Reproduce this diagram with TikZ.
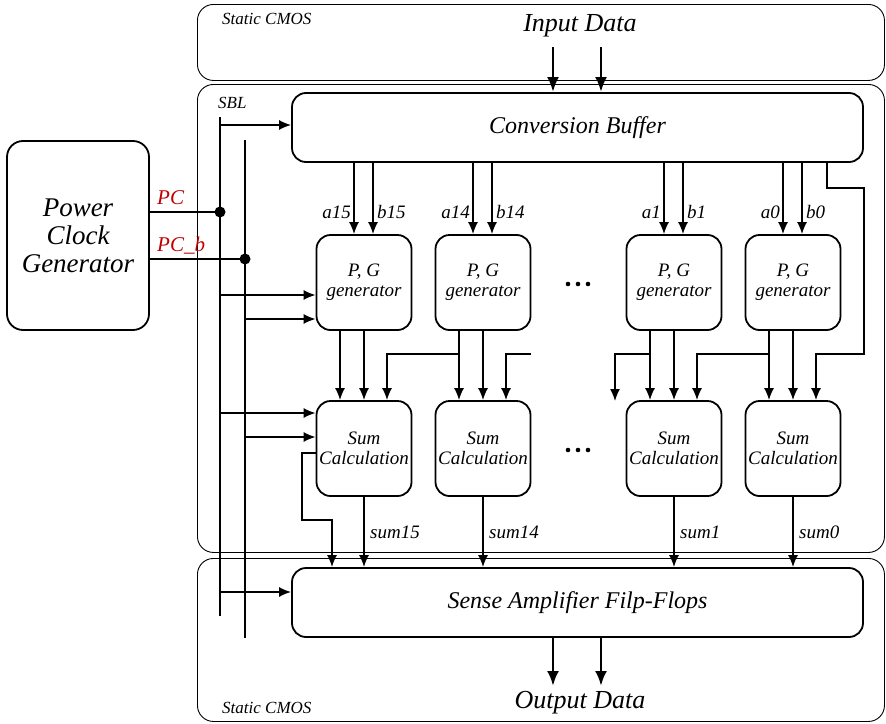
\documentclass[tikz,border=0pt]{standalone}
\usepackage{fontspec}
\setmainfont{Liberation Serif}
\usetikzlibrary{arrows.meta,calc}
\definecolor{pcred}{RGB}{192,0,0}
\begin{document}
\begin{tikzpicture}[x=1pt,y=-1pt,
  outerbox/.style={draw,line width=0.9pt,rounded corners=16pt,inner sep=0pt,anchor=north west},
  bigbox/.style={draw,line width=1.8pt,rounded corners=14pt,inner sep=0pt,font=\fontsize{24}{28}\selectfont\itshape},
  blk/.style={draw,line width=1.8pt,rounded corners=14pt,inner sep=0pt,minimum width=95pt,minimum height=95pt,align=center,font=\fontsize{19}{20}\selectfont\itshape},
  wire/.style={line width=1.5pt},
  arr/.style={wire,-{Latex[length=12pt,width=10pt]}},
  bigarr/.style={line width=2.8pt,-{Latex[length=15pt,width=12pt]}},
  lbl/.style={font=\fontsize{19}{20}\selectfont\itshape,inner sep=0pt},
  small/.style={font=\fontsize{17}{18}\selectfont\itshape,inner sep=0pt},
  big/.style={font=\fontsize{26}{28}\selectfont\itshape,inner sep=0pt},
  pclbl/.style={font=\fontsize{21}{22}\selectfont\itshape,text=pcred,inner sep=0pt},
]
\useasboundingbox (0,0) rectangle (886,723);

% regions
\node[outerbox,minimum width=687pt,minimum height=76pt] (topreg) at (197,4) {};
\node[outerbox,minimum width=687pt,minimum height=468pt] (sbl) at (197,84) {};
\node[outerbox,minimum width=687pt,minimum height=163pt] (botreg) at (197,558) {};
\node[small,anchor=west] (tcmos) at (222,19) {Static CMOS};
\node[small,anchor=west] (sbllbl) at (218,103) {SBL};
\node[small,anchor=west] (bcmos) at (222,708) {Static CMOS};
\node[big] (indata) at (580,26) {Input Data};
\node[big] (outdata) at (580,703) {Output Data};

% main blocks
\node[bigbox,minimum width=571pt,minimum height=69pt] (cb) at (577.5,127.5) {\raisebox{-2pt}{Conversion Buffer}};
\node[bigbox,minimum width=571pt,minimum height=69pt] (saff) at (577.5,602.5) {\raisebox{-1pt}{Sense Amplifier Filp-Flops}};
\node[draw,line width=1.8pt,rounded corners=16pt,inner sep=0pt,minimum width=142pt,minimum height=189pt,align=center,
      font=\fontsize{27}{28}\selectfont\itshape] (pcg) at (78,235.5) {Power\\Clock\\Generator};

% input / output data arrows
\coordinate (in1) at (553,47);
\coordinate (in2) at (601,47);
\draw[bigarr] (in1) -- (cb.north -| in1);
\draw[bigarr] (in2) -- (cb.north -| in2);
\coordinate (out1) at (553,686);
\coordinate (out2) at (601,686);
\draw[bigarr] (saff.south -| out1) -- (out1);
\draw[bigarr] (saff.south -| out2) -- (out2);

% PG and Sum blocks
\foreach \n/\cx in {15/364,14/483,1/674,0/793}{
  \pgfmathsetmacro\xa{\cx-10}
  \pgfmathsetmacro\xb{\cx+9}
  \pgfmathsetmacro\xo{\cx-24}
  \node[blk] (pg\n) at (\cx,282.5) {P, G\\generator};
  \node[blk] (sum\n) at (\cx,448.5) {Sum\\Calculation};
  \draw[arr] (cb.south -| \xa,0) -- (pg\n.north -| \xa,0);
  \draw[arr] (cb.south -| \xb,0) -- (pg\n.north -| \xb,0);
  \node[lbl,anchor=east] (la\n) at (\xa-3,212) {a\n};
  \node[lbl,anchor=west] (lb\n) at (\xb+4,212) {b\n};
  \draw[arr] (pg\n.south -| \xo,0) -- (sum\n.north -| \xo,0);
  \draw[arr] (pg\n.south) -- (sum\n.north);
  \draw[arr] (sum\n.south) -- (saff.north -| sum\n.south);
  \node[lbl,anchor=west] (ls\n) at (\cx+6,532) {sum\n};
}

% carry connections
\coordinate (j14) at (459,354);
\draw[arr] (j14) -| (sum15.north -| 387,0);
\coordinate (s13) at (531,354);
\draw[arr] (s13) -| (sum14.north -| 506,0);
\coordinate (j1) at (650,354);
\coordinate (s2) at (615,401);
\draw[arr] (j1) -| (s2);
\coordinate (j0) at (769,354);
\draw[arr] (j0) -| (sum1.north -| 697,0);
\draw[arr] (cb.south -| 827,0) |- (864,188) |- (816,354) -- (sum0.north -| 816,0);
\draw[arr] (sum15.west |- 0,453) -- (302,453) |- (332,520) -- (saff.north -| 332,0);

% ellipsis dots
\foreach \y in {284,450}{
  \fill (568,\y) circle (2.3);
  \fill (578,\y) circle (2.3);
  \fill (588,\y) circle (2.3);
}

% power clock rails
\coordinate (raTop) at (220,117);
\coordinate (raBot) at (220,616);
\coordinate (rbTop) at (245,140);
\coordinate (rbBot) at (245,638);
\draw[wire] (raTop) -- (raBot);
\draw[wire] (rbTop) -- (rbBot);
\draw[line width=2pt] (pcg.east |- 0,212) -- (raTop |- 0,212);
\draw[wire] (pcg.east |- 0,259) -- (rbTop |- 0,259);
\fill (raTop |- 0,212) circle (5.5);
\fill (rbTop |- 0,259) circle (5.5);
\node[pclbl,anchor=west] (pclbl) at (157,198) {PC};
\node[pclbl,anchor=west] (pcblbl) at (157,246) {PC\_b};

\draw[arr] (raTop |- 0,125) -- (cb.west |- 0,125);
\draw[arr] (raTop |- 0,295) -- (pg15.west |- 0,295);
\draw[arr] (rbTop |- 0,319) -- (pg15.west |- 0,319);
\draw[arr] (raTop |- 0,413) -- (sum15.west |- 0,413);
\draw[arr] (rbTop |- 0,437) -- (sum15.west |- 0,437);
\draw[arr] (raTop |- 0,592) -- (saff.west |- 0,592);
\end{tikzpicture}
\end{document}
